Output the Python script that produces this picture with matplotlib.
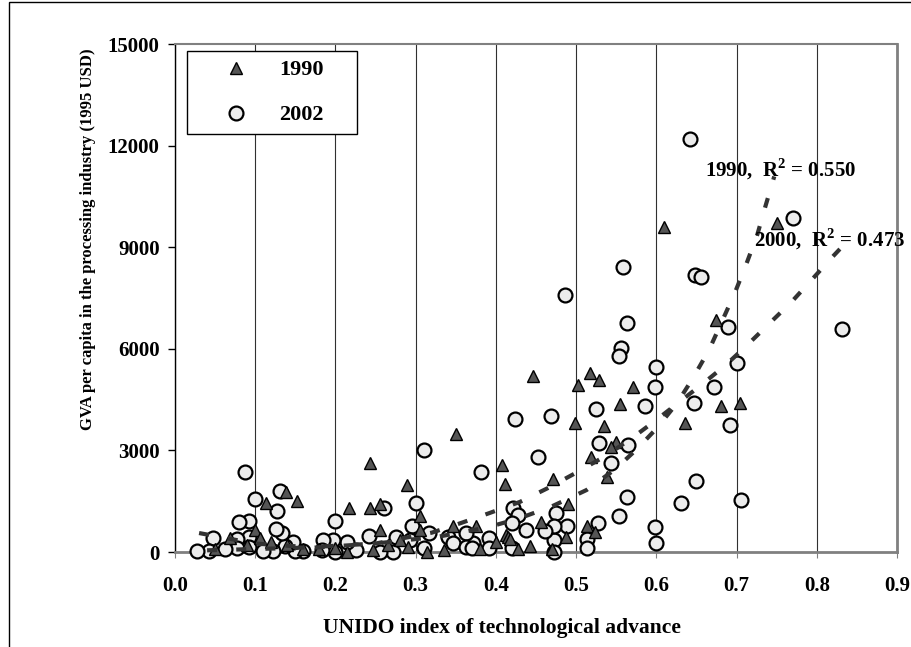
import numpy as np
import matplotlib
matplotlib.use('Agg')
import matplotlib.pyplot as plt
from matplotlib.patches import Rectangle

plt.rcParams['font.family'] = 'Liberation Serif'
plt.rcParams['font.weight'] = 'bold'
plt.rcParams['mathtext.fontset'] = 'custom'
plt.rcParams['mathtext.rm'] = 'Liberation Serif:bold'
plt.rcParams['mathtext.bf'] = 'Liberation Serif:bold'

# 1990 points (triangles)
x_1990 = [0.750, 0.609, 0.674, 0.446, 0.517, 0.528, 0.502, 0.571, 0.555, 0.681,
          0.704, 0.498, 0.535, 0.636, 0.350, 0.550, 0.543, 0.518, 0.538, 0.408,
          0.411, 0.471, 0.243, 0.289, 0.138, 0.152, 0.114, 0.217, 0.243, 0.255,
          0.306, 0.490, 0.456, 0.375, 0.346, 0.513, 0.524, 0.487, 0.413, 0.415,
          0.418, 0.442, 0.428, 0.305, 0.255, 0.335, 0.314, 0.214, 0.247, 0.100,
          0.106, 0.068, 0.120, 0.140, 0.160, 0.180, 0.200, 0.265, 0.280, 0.290,
          0.380, 0.400, 0.470, 0.050, 0.090]
y_1990 = [9710, 9590, 6860, 5210, 5300, 5090, 4940, 4880, 4380, 4320,
          4410, 3820, 3730, 3820, 3470, 3250, 3110, 2810, 2220, 2570,
          2010, 2160, 2630, 1980, 1780, 1510, 1450, 1300, 1300, 1420,
          1070, 1420, 890, 770, 770, 770, 590, 440, 500, 450,
          380, 180, 90, 650, 650, 60, 0, 0, 60, 650,
          410, 410, 300, 200, 100, 80, 120, 200, 350, 150,
          100, 300, 80, 100, 200]

# 2002 points (circles)
x_2002 = [0.642, 0.770, 0.558, 0.648, 0.656, 0.486, 0.563, 0.689, 0.831, 0.556,
          0.553, 0.599, 0.701, 0.598, 0.672, 0.586, 0.525, 0.647, 0.424, 0.469,
          0.692, 0.529, 0.565, 0.311, 0.452, 0.544, 0.381, 0.087, 0.650, 0.564,
          0.706, 0.631, 0.100, 0.131, 0.127, 0.300, 0.261, 0.200, 0.554, 0.421,
          0.428, 0.475, 0.598, 0.600, 0.513, 0.513, 0.473, 0.472, 0.527, 0.489,
          0.473, 0.438, 0.461, 0.420, 0.420, 0.392, 0.392, 0.371, 0.340, 0.346,
          0.363, 0.363, 0.370, 0.317, 0.311, 0.295, 0.293, 0.276, 0.272, 0.255,
          0.242, 0.226, 0.214, 0.199, 0.197, 0.184, 0.183, 0.160, 0.149, 0.147,
          0.137, 0.133, 0.126, 0.122, 0.110, 0.092, 0.080, 0.092, 0.092, 0.077,
          0.077, 0.062, 0.047, 0.042, 0.027]
y_2002 = [12200, 9870, 8420, 8170, 8120, 7600, 6770, 6650, 6590, 6030,
          5800, 5460, 5580, 4870, 4870, 4310, 4230, 4400, 3930, 4030,
          3760, 3230, 3160, 3010, 2810, 2630, 2370, 2370, 2100, 1620,
          1530, 1460, 1570, 1800, 1210, 1450, 1300, 920, 1070, 1290,
          1100, 1150, 740, 270, 380, 110, 340, 10, 860, 770,
          770, 650, 620, 860, 120, 410, 120, 270, 430, 270,
          560, 150, 120, 560, 120, 770, 350, 440, 10, 10,
          470, 60, 300, 10, 350, 350, 60, 30, 30, 300,
          180, 560, 680, 30, 30, 920, 890, 440, 150, 380,
          120, 90, 410, 30, 30]

# trendlines
trend_1990_x = [0.04, 0.15, 0.25, 0.33, 0.39, 0.43, 0.47, 0.513, 0.548, 0.575,
                0.60, 0.626, 0.646, 0.666, 0.698, 0.712, 0.726, 0.736, 0.747]
trend_1990_y = [50, 120, 250, 460, 730, 1000, 1350, 1830, 2430, 3020,
                3640, 4400, 5150, 5980, 7660, 8490, 9380, 10210, 11090]
trend_2000_x = [0.03, 0.10, 0.174, 0.25, 0.32, 0.357, 0.392, 0.43, 0.465, 0.50,
                0.537, 0.57, 0.60, 0.658, 0.687, 0.715, 0.741, 0.768, 0.793, 0.819, 0.833]
trend_2000_y = [560, 250, 130, 250, 570, 860, 1150, 1480, 1890, 2340,
                2840, 3370, 3900, 4970, 5530, 6150, 6750, 7370, 8020, 8700, 9050]

x_ticks = [0.0, 0.1, 0.2, 0.3, 0.4, 0.5, 0.6, 0.7, 0.8, 0.9]
y_ticks = [0, 3000, 6000, 9000, 12000, 15000]

fig = plt.figure(figsize=(9.12, 6.47), dpi=100)
ax = fig.add_axes([175 / 912, 1 - 552 / 647, 722 / 912, 508 / 647])

ax.plot(trend_1990_x, trend_1990_y, linestyle=(0, (2.4, 4.6)), color='#333333', lw=3,
        zorder=4, clip_on=False)
ax.plot(trend_2000_x, trend_2000_y, linestyle=(0, (2.4, 4.6)), color='#333333', lw=3,
        zorder=4, clip_on=False)

ax.plot(x_2002, y_2002, 'o', markersize=10, markerfacecolor='#ececec', markeredgecolor='black',
        markeredgewidth=1.6, linestyle='none', label='2002', zorder=3, clip_on=False)
ax.plot(x_1990, y_1990, '^', markersize=8.5, markerfacecolor='#555555', markeredgecolor='black',
        markeredgewidth=1.0, linestyle='none', label='1990', zorder=3, clip_on=False)

ax.set_xlim(0, 0.9)
ax.set_ylim(0, 15000)
ax.set_xticks(x_ticks)
ax.set_xticklabels(['%.1f' % v for v in x_ticks])
ax.set_yticks(y_ticks)
ax.grid(axis='x', color='#303030', lw=0.8, zorder=0)
ax.tick_params(axis='x', length=4, color='#808080', pad=13, labelsize=15)
ax.tick_params(axis='y', length=5, width=1, pad=6, labelsize=15)

ax.spines['left'].set_color('black')
ax.spines['left'].set_linewidth(1)
ax.spines['bottom'].set_color('#808080')
ax.spines['bottom'].set_linewidth(2)
ax.spines['top'].set_color('#808080')
ax.spines['top'].set_linewidth(1.5)
ax.spines['right'].set_color('#808080')
ax.spines['right'].set_linewidth(2)

handles, labels = ax.get_legend_handles_labels()
leg = ax.legend(handles[::-1], labels[::-1], loc='upper left',
                bbox_to_anchor=(12 / 722, 496 / 508, 170 / 722, 0.01), mode='expand',
                borderaxespad=0, borderpad=0.4, handlelength=3.6, handletextpad=0.15,
                labelspacing=1.1, fontsize=16, frameon=True, fancybox=False,
                edgecolor='black', framealpha=1)
leg.get_frame().set_linewidth(1)

ax.text(0.661, 11300, r'1990,  R$^{2}$ = 0.550', fontsize=15, va='center', ha='left',
        clip_on=False, zorder=5)
ax.text(0.722, 9230, r'2000,  R$^{2}$ = 0.473', fontsize=15, va='center', ha='left',
        clip_on=False, zorder=5)

fig.text(88 / 912, 1 - 239 / 647, 'GVA per capita in the processing industry (1995 USD)',
         rotation=90, ha='center', va='center', fontsize=12)
fig.text(502 / 912, 1 - 628 / 647, 'UNIDO index of technological advance',
         ha='center', va='center', fontsize=15.5)

fig.add_artist(Rectangle((9 / 912, -0.5), 2, 1.5 - 2 / 647, transform=fig.transFigure,
                         fill=False, edgecolor='black', lw=1))

fig.savefig('out.png', dpi=100)
